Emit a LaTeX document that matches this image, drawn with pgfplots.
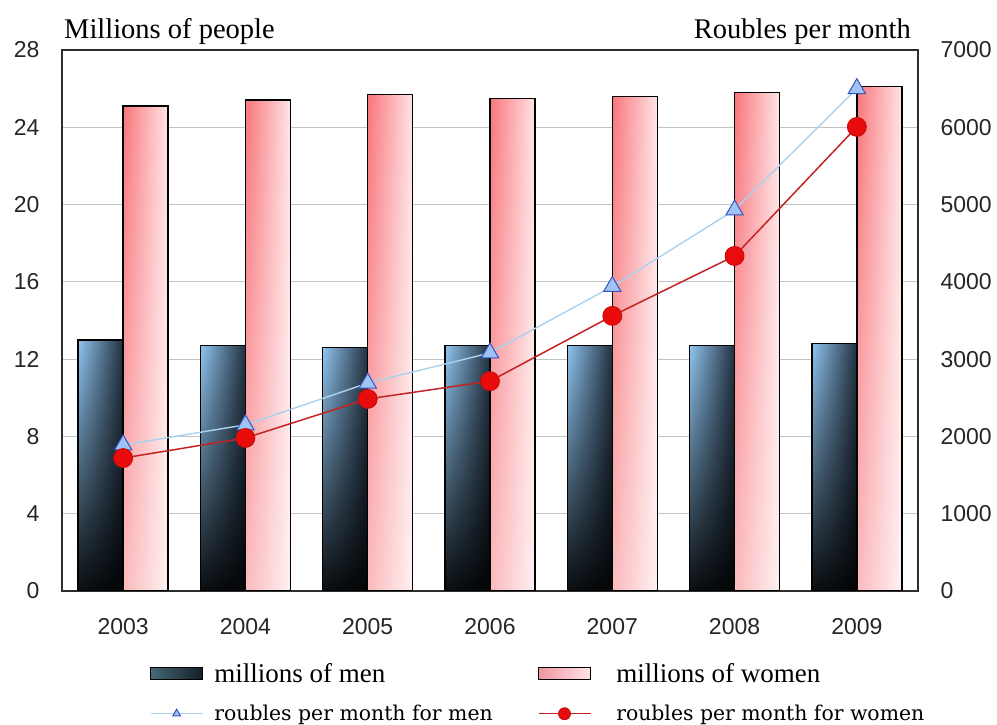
\documentclass[border=0pt]{standalone}
\usepackage{fontspec}
\setmainfont{Liberation Serif}
\setsansfont{Liberation Sans}
\newfontfamily\legserif{DejaVu Serif}
\usepackage{pgfplots}
\usepackage{pgfplotstable}
\pgfplotsset{compat=1.18}
\usetikzlibrary{fadings}
\tikzfading[name=fadeup, top color=transparent!100, middle color=transparent!78, bottom color=transparent!0]

\definecolor{menL}{RGB}{145,198,240}
\definecolor{menR}{RGB}{35,50,66}
\definecolor{womL}{RGB}{248,118,124}
\definecolor{womR}{RGB}{255,228,230}
\definecolor{gridc}{RGB}{195,195,195}
\definecolor{menline}{RGB}{170,210,238}
\definecolor{menmarkfill}{RGB}{160,195,245}
\definecolor{menmarkdraw}{RGB}{55,85,190}
\definecolor{womline}{RGB}{195,35,35}
\definecolor{wommark}{RGB}{232,12,12}
\definecolor{axc}{RGB}{45,45,45}

\pgfplotsset{
  menleg/.style={legend image code/.code={\draw[##1, mark size=4.5pt, mark repeat=2, mark phase=2] plot coordinates {(0pt,0pt) (26pt,0pt) (52pt,0pt)};}},
  womleg/.style={legend image code/.code={\draw[##1, mark size=6pt, mark repeat=2, mark phase=2] plot coordinates {(0pt,0pt) (26pt,0pt) (52pt,0pt)};}},
  menbarleg/.style={legend image code/.code={\draw[draw=black, line width=1pt, left color={rgb,255:red,70;green,105;blue,120}, right color={rgb,255:red,20;green,30;blue,38}] (0pt,-6pt) rectangle (52pt,6pt);}},
  wombarleg/.style={legend image code/.code={\draw[draw=black, line width=1pt, left color={rgb,255:red,240;green,150;blue,160}, right color={rgb,255:red,255;green,228;blue,230}] (0pt,-6pt) rectangle (52pt,6pt);}},
}

\pgfplotstableread{
x men women
0 13.0 25.1
1 12.7 25.4
2 12.6 25.7
3 12.7 25.5
4 12.7 25.6
5 12.7 25.8
6 12.8 26.1
}\bars

\pgfplotstableread{
x men women
0 1890 1720
1 2150 1980
2 2690 2485
3 3080 2715
4 3940 3560
5 4930 4335
6 6500 6005
}\roubles

\begin{document}
\begin{tikzpicture}
\begin{axis}[
  name=ax,
  at={(0pt,0pt)}, anchor=south west,
  scale only axis, width=856pt, height=541pt,
  xmin=-0.5, xmax=6.5, ymin=0, ymax=28,
  xtick={0,1,2,3,4,5,6},
  xticklabels={2003,2004,2005,2006,2007,2008,2009},
  ytick={0,4,8,12,16,20,24,28},
  ymajorgrids, grid style={gridc, line width=1pt},
  major tick length=0pt,
  axis line style={draw=axc, line width=1.3pt},
  tick label style={font=\sffamily\fontsize{23}{23}\selectfont, text=black!85},
  /pgf/number format/assume math mode=true,
  yticklabel shift=19pt, xticklabel shift=24pt,
  ybar, bar width=45pt,
]
\pgfplotsinvokeforeach{0,...,6}{
% men bar
\addplot[bar shift=-22.5pt, draw=none, left color=menL, right color=menR, restrict x to domain=#1:#1] table[x=x,y=men]{\bars};
\addplot[bar shift=-22.5pt, draw=none, fill=black, fill opacity=0.93, path fading=fadeup, restrict x to domain=#1:#1] table[x=x,y=men]{\bars};
\addplot[bar shift=-22.5pt, draw=black, fill=none, line width=1.5pt, restrict x to domain=#1:#1] table[x=x,y=men]{\bars};
% women bar
\addplot[bar shift=22.5pt, draw=none, left color=womL, right color=womR, restrict x to domain=#1:#1] table[x=x,y=women]{\bars};
\addplot[bar shift=22.5pt, draw=none, fill=white, fill opacity=0.5, path fading=fadeup, restrict x to domain=#1:#1] table[x=x,y=women]{\bars};
\addplot[bar shift=22.5pt, draw=black, fill=none, line width=1.5pt, restrict x to domain=#1:#1] table[x=x,y=women]{\bars};
}
\end{axis}
\begin{axis}[
  at={(0pt,0pt)}, anchor=south west,
  scale only axis, width=856pt, height=541pt,
  xmin=-0.5, xmax=6.5, ymin=0, ymax=7000,
  axis x line=none, axis y line*=right,
  ytick={0,1000,2000,3000,4000,5000,6000,7000},
  major tick length=0pt,
  axis line style={draw=axc, line width=1.3pt},
  tick label style={font=\sffamily\fontsize{23}{23}\selectfont, text=black!85},
  /pgf/number format/1000 sep={},
  /pgf/number format/assume math mode=true,
  yticklabel shift=19pt,
  legend columns=2,
  legend style={at={(axis description cs:0.1028,-0.1885)}, anchor=west, draw=none, fill=none, inner sep=0pt, outer sep=0pt,
    row sep=17pt,
    /tikz/every odd column/.append style={column sep=9pt},
    /tikz/every even column/.append style={column sep=43pt}},
  legend cell align=left,
]
\addlegendimage{menbarleg}
\addlegendentry{\fontsize{27}{27}\selectfont millions of men}
\addlegendimage{wombarleg}
\addlegendentry{\hspace{14pt}\fontsize{27}{27}\selectfont millions of women}
\addplot[color=menline, line width=1.4pt, mark=triangle*, mark size=10pt,
  mark options={fill=menmarkfill, draw=menmarkdraw, line width=1pt}, menleg]
  table[x=x,y=men]{\roubles};
\addlegendentry{\legserif\fontsize{20.4}{21}\selectfont roubles per month for men}
\addplot[color=womline, line width=1.5pt, mark=*, mark size=9.5pt,
  mark options={fill=wommark, draw=wommark!85!black, line width=0.8pt}, womleg]
  table[x=x,y=women]{\roubles};
\addlegendentry{\hspace{14pt}\legserif\fontsize{20.4}{21}\selectfont roubles per month for women}
\end{axis}
\node[anchor=base west, font=\fontsize{28.5}{28.5}\selectfont, inner sep=0pt] at ([xshift=2pt, yshift=11pt]ax.north west) {Millions of people};
\node[anchor=base east, font=\fontsize{28.5}{28.5}\selectfont, inner sep=0pt] at ([xshift=-7pt, yshift=11pt]ax.north east) {Roubles per month};
\pgfresetboundingbox
\path[use as bounding box] (-62pt,-134pt) rectangle (935pt,591pt);
\end{tikzpicture}
\end{document}
